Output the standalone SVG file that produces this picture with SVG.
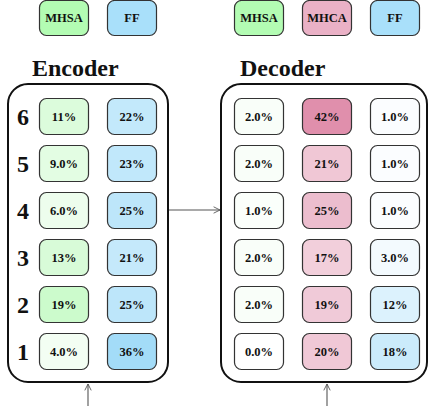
<svg xmlns="http://www.w3.org/2000/svg" width="429" height="412" viewBox="0 0 429 412">
<style>
.cell{stroke:#333;stroke-width:1.2}
.t{font-family:"Liberation Serif",serif;font-weight:bold;font-size:12.5px;text-anchor:middle;fill:#111}
.title{font-family:"Liberation Serif",serif;font-weight:bold;font-size:24px;fill:#111}
.num{font-family:"Liberation Serif",serif;font-weight:bold;font-size:24px;text-anchor:middle;fill:#111}
.box{fill:#fff;stroke:#111;stroke-width:2}
.conn{stroke:#555;stroke-width:1.1;fill:none}
</style>
<defs>
<marker id="ah" viewBox="0 0 10 10" refX="9" refY="5" markerWidth="8" markerHeight="8" orient="auto" markerUnits="userSpaceOnUse">
<path d="M1,1 L9,5 L1,9" fill="none" stroke="#555" stroke-width="1.1"/>
</marker>
</defs>
<g id="legend-encoder">
<rect class="cell" x="39.5" y="0.5" width="49" height="35" rx="7" fill="#b3fcb3"/>
<text class="t" x="64" y="22">MHSA</text>
<rect class="cell" x="107.5" y="0.5" width="49" height="35" rx="7" fill="#a9e0fa"/>
<text class="t" x="132" y="22">FF</text>
</g>
<g id="legend-decoder">
<rect class="cell" x="234.5" y="0.5" width="49" height="35" rx="7" fill="#b3fcb3"/>
<text class="t" x="259" y="22">MHSA</text>
<rect class="cell" x="302.5" y="0.5" width="49" height="35" rx="7" fill="#eab1c6"/>
<text class="t" x="327" y="22">MHCA</text>
<rect class="cell" x="370.5" y="0.5" width="49" height="35" rx="7" fill="#a9e0fa"/>
<text class="t" x="395" y="22">FF</text>
</g>
<g id="encoder">
<text class="title" x="32" y="76">Encoder</text>
<rect class="box" x="8" y="84" width="160" height="298" rx="20"/>
<text class="num" x="23" y="125">6</text>
<text class="num" x="23" y="172">5</text>
<text class="num" x="23" y="219">4</text>
<text class="num" x="23" y="266">3</text>
<text class="num" x="23" y="313">2</text>
<text class="num" x="23" y="360">1</text>
<rect class="cell" x="39.5" y="98.5" width="49" height="36" rx="7" fill="#dcfcdc"/><text class="t" x="64" y="121">11%</text>
<rect class="cell" x="107.5" y="98.5" width="49" height="36" rx="7" fill="#c3e9fb"/><text class="t" x="132" y="121">22%</text>
<rect class="cell" x="39.5" y="145.5" width="49" height="36" rx="7" fill="#e3fde3"/><text class="t" x="64" y="168">9.0%</text>
<rect class="cell" x="107.5" y="145.5" width="49" height="36" rx="7" fill="#c1e8fb"/><text class="t" x="132" y="168">23%</text>
<rect class="cell" x="39.5" y="192.5" width="49" height="36" rx="7" fill="#edfded"/><text class="t" x="64" y="215">6.0%</text>
<rect class="cell" x="107.5" y="192.5" width="49" height="36" rx="7" fill="#bde6fa"/><text class="t" x="132" y="215">25%</text>
<rect class="cell" x="39.5" y="239.5" width="49" height="36" rx="7" fill="#d8fbd8"/><text class="t" x="64" y="262">13%</text>
<rect class="cell" x="107.5" y="239.5" width="49" height="36" rx="7" fill="#c5e9fb"/><text class="t" x="132" y="262">21%</text>
<rect class="cell" x="39.5" y="286.5" width="49" height="36" rx="7" fill="#ccfbcc"/><text class="t" x="64" y="309">19%</text>
<rect class="cell" x="107.5" y="286.5" width="49" height="36" rx="7" fill="#bde6fa"/><text class="t" x="132" y="309">25%</text>
<rect class="cell" x="39.5" y="333.5" width="49" height="36" rx="7" fill="#f3fef3"/><text class="t" x="64" y="356">4.0%</text>
<rect class="cell" x="107.5" y="333.5" width="49" height="36" rx="7" fill="#a3dcf8"/><text class="t" x="132" y="356">36%</text>
</g>
<g id="decoder">
<text class="title" x="240" y="76">Decoder</text>
<rect class="box" x="221" y="84" width="206" height="298" rx="20"/>
<rect class="cell" x="234.5" y="98.5" width="49" height="36" rx="7" fill="#f9fef9"/><text class="t" x="259" y="121">2.0%</text>
<rect class="cell" x="302.5" y="98.5" width="49" height="36" rx="7" fill="#e08fac"/><text class="t" x="327" y="121">42%</text>
<rect class="cell" x="370.5" y="98.5" width="49" height="36" rx="7" fill="#fbfdff"/><text class="t" x="395" y="121">1.0%</text>
<rect class="cell" x="234.5" y="145.5" width="49" height="36" rx="7" fill="#f9fef9"/><text class="t" x="259" y="168">2.0%</text>
<rect class="cell" x="302.5" y="145.5" width="49" height="36" rx="7" fill="#f0c7d5"/><text class="t" x="327" y="168">21%</text>
<rect class="cell" x="370.5" y="145.5" width="49" height="36" rx="7" fill="#fbfdff"/><text class="t" x="395" y="168">1.0%</text>
<rect class="cell" x="234.5" y="192.5" width="49" height="36" rx="7" fill="#fbfffb"/><text class="t" x="259" y="215">1.0%</text>
<rect class="cell" x="302.5" y="192.5" width="49" height="36" rx="7" fill="#ecbdce"/><text class="t" x="327" y="215">25%</text>
<rect class="cell" x="370.5" y="192.5" width="49" height="36" rx="7" fill="#fbfdff"/><text class="t" x="395" y="215">1.0%</text>
<rect class="cell" x="234.5" y="239.5" width="49" height="36" rx="7" fill="#f9fef9"/><text class="t" x="259" y="262">2.0%</text>
<rect class="cell" x="302.5" y="239.5" width="49" height="36" rx="7" fill="#f2cfdb"/><text class="t" x="327" y="262">17%</text>
<rect class="cell" x="370.5" y="239.5" width="49" height="36" rx="7" fill="#f3fafe"/><text class="t" x="395" y="262">3.0%</text>
<rect class="cell" x="234.5" y="286.5" width="49" height="36" rx="7" fill="#f9fef9"/><text class="t" x="259" y="309">2.0%</text>
<rect class="cell" x="302.5" y="286.5" width="49" height="36" rx="7" fill="#f0cad8"/><text class="t" x="327" y="309">19%</text>
<rect class="cell" x="370.5" y="286.5" width="49" height="36" rx="7" fill="#dcf2fd"/><text class="t" x="395" y="309">12%</text>
<rect class="cell" x="234.5" y="333.5" width="49" height="36" rx="7" fill="#ffffff"/><text class="t" x="259" y="356">0.0%</text>
<rect class="cell" x="302.5" y="333.5" width="49" height="36" rx="7" fill="#f0c8d6"/><text class="t" x="327" y="356">20%</text>
<rect class="cell" x="370.5" y="333.5" width="49" height="36" rx="7" fill="#cbebfb"/><text class="t" x="395" y="356">18%</text>
</g>
<g id="connectors">
<line class="conn" x1="169" y1="210" x2="220" y2="210" marker-end="url(#ah)"/>
<line class="conn" x1="88" y1="406" x2="88" y2="384" marker-end="url(#ah)"/>
<line class="conn" x1="327" y1="406" x2="327" y2="384" marker-end="url(#ah)"/>
</g>
</svg>
